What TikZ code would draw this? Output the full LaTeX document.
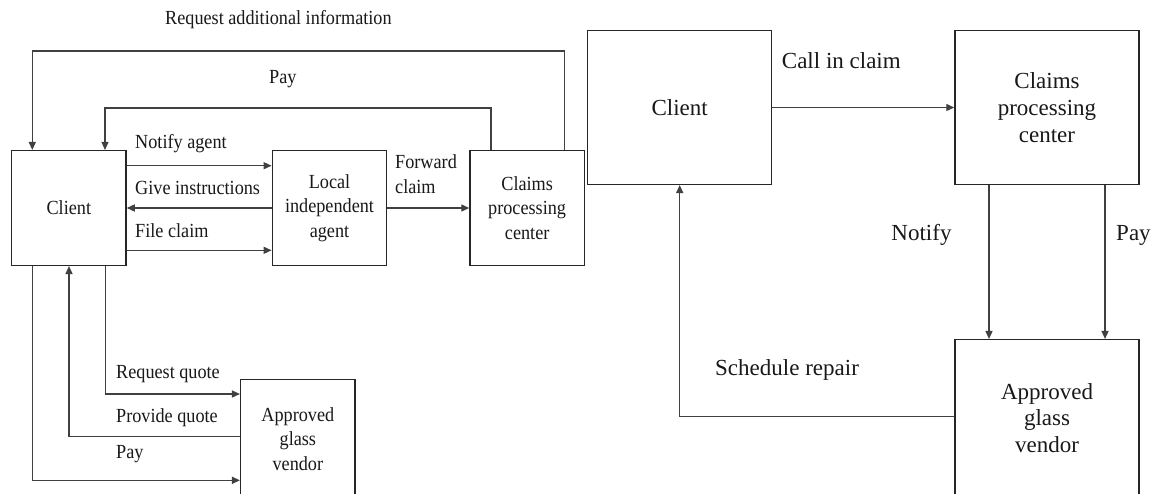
\documentclass[tikz,border=0pt]{standalone}
\usepackage{fontspec}
\setmainfont{Liberation Serif}
\newfontfamily\condfont{Liberation Serif}[FakeStretch=0.91]
\usetikzlibrary{arrows.meta}
\begin{document}
\begin{tikzpicture}[x=1pt,y=-1pt,
  box/.style={draw=black!85, line width=1.5pt, align=center, inner sep=0pt, text=black!90},
  lbox/.style={box, minimum width=114.3pt, font=\condfont\fontsize{20}{24.7}\selectfont},
  rbox/.style={box, minimum width=184pt, font=\fontsize{23}{26.7}\selectfont},
  conn/.style={draw=black!75, line width=1.4pt},
  arr/.style={conn, -{Triangle[length=8pt,width=7pt]}},
  llab/.style={font=\condfont\fontsize{20}{24.7}\selectfont, text=black!90, inner sep=0pt, anchor=west},
  rlab/.style={font=\fontsize{23}{26.7}\selectfont, text=black!90, inner sep=0pt},
]
\useasboundingbox (0,0) rectangle (1151,493);
\clip (0,0) rectangle (1151,493);
\fill[white] (0,0) rectangle (1151,493);

% left diagram boxes
\node[lbox, minimum height=114.6pt] (client1) at (68.85,208) {Client};
\node[lbox, minimum height=114.6pt] (agent) at (329.5,208) {Local\\independent\\agent};
\node[lbox, minimum height=114.6pt] (cpc1) at (527.15,208) {Claims\\processing\\center};
\node[lbox, minimum height=118.6pt] (vendor1) at (297.85,439) {Approved\\glass\\vendor};

% right diagram boxes
\node[rbox, minimum height=153.6pt] (client2) at (679.7,107.5) {Client};
\node[rbox, minimum height=153.6pt] (cpc2) at (1047,107.5) {Claims\\processing\\center};
\node[rbox, minimum height=156.6pt] (vendor2) at (1047,418) {Approved\\glass\\vendor};

% left connectors
\draw[arr] (564.3,0 |- cpc1.north) -- (564.3,51) -| (32.3,0 |- client1.north);
\draw[arr] (491,0 |- cpc1.north) -- (491,108) -| (105,0 |- client1.north);
\draw[arr] (0,165.7 -| client1.east) -- (0,165.7 -| agent.west);
\draw[arr] (agent.west) -- (client1.east);
\draw[arr] (0,250.3 -| client1.east) -- (0,250.3 -| agent.west);
\draw[arr] (agent.east) -- (cpc1.west);
\draw[arr] (105.7,0 |- client1.south) -- (105.7,394) -- (0,394 -| vendor1.west);
\draw[arr] (0,436.3 -| vendor1.west) -- (69,436.3) -- (69,0 |- client1.south);
\draw[arr] (32.3,0 |- client1.south) -- (32.3,480.3) -- (0,480.3 -| vendor1.west);

% right connectors
\draw[arr] (client2.east) -- (cpc2.west);
\draw[arr] (989,0 |- cpc2.south) -- (989,0 |- vendor2.north);
\draw[arr] (1105,0 |- cpc2.south) -- (1105,0 |- vendor2.north);
\draw[arr] (0,416.3 -| vendor2.west) -- (679.7,416.3) -- (client2.south);

% left labels
\node[llab] (lreq) at (165,20) {Request additional information};
\node[llab] (lpay1) at (269,79) {Pay};
\node[llab] (lnot) at (135,144) {Notify agent};
\node[llab] (lgive) at (135,188) {Give instructions};
\node[llab] (lfile) at (135,231) {File claim};
\node[llab, align=left] (lfwd) at (395,174.5) {Forward\\claim};
\node[llab] (lrq) at (116,373.7) {Request quote};
\node[llab] (lpq) at (116,418) {Provide quote};
\node[llab] (lpay2) at (116,453.7) {Pay};

% right labels
\node[rlab, anchor=west] (rcall) at (781.7,61) {Call in claim};
\node[rlab, anchor=east] (rnot) at (951.7,235) {Notify};
\node[rlab, anchor=west] (rpay) at (1116,235) {Pay};
\node[rlab, anchor=west] (rsch) at (715,370.3) {Schedule repair};
\end{tikzpicture}
\end{document}
